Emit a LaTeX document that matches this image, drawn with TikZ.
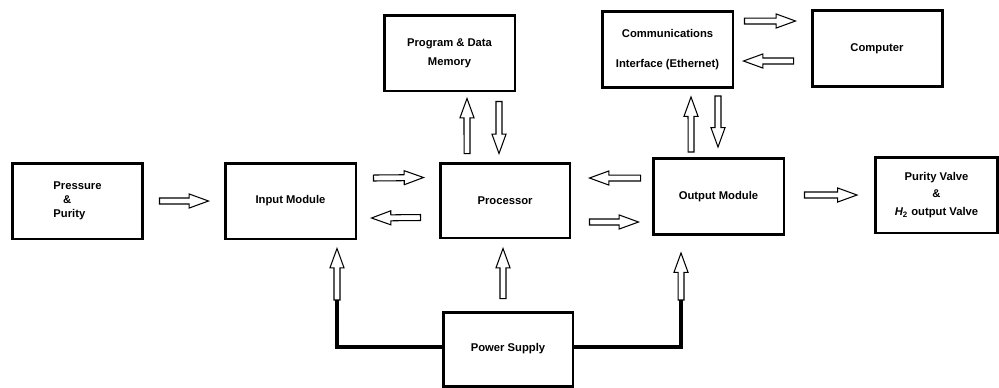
\documentclass[tikz,border=0pt]{standalone}
\usepackage{fontspec}
\setmainfont{Liberation Sans}
\usetikzlibrary{calc}

\newcommand{\shaftw}{1.7pt}
\newcommand{\headw}{4pt}
\newcommand{\headl}{11pt}

\begin{document}
\begin{tikzpicture}[
  x=0.02cm, y=-0.02cm,
  every node/.style={font=\fontsize{6.4}{8}\selectfont\bfseries},
  box/.style={rectangle, draw, line width=1.7pt, minimum width=2.62cm, minimum height=1.52cm, align=center, inner sep=1pt},
  hollow/.style={draw, line width=0.6pt, to path={
    let \p1=(\tikztostart), \p2=(\tikztotarget),
        \n1={veclen(\x2-\x1,\y2-\y1)}, \n2={(\x2-\x1)/\n1}, \n3={(\y2-\y1)/\n1} in
    ({\x1-\shaftw*(\n3)},{\y1+\shaftw*(\n2)})
    -- ({\x2-\headl*(\n2)-\shaftw*(\n3)},{\y2-\headl*(\n3)+\shaftw*(\n2)})
    -- ({\x2-\headl*(\n2)-\headw*(\n3)},{\y2-\headl*(\n3)+\headw*(\n2)})
    -- (\p2)
    -- ({\x2-\headl*(\n2)+\headw*(\n3)},{\y2-\headl*(\n3)-\headw*(\n2)})
    -- ({\x2-\headl*(\n2)+\shaftw*(\n3)},{\y2-\headl*(\n3)-\shaftw*(\n2)})
    -- ({\x1+\shaftw*(\n3)},{\y1-\shaftw*(\n2)}) -- cycle}},
  power/.style={line width=2.8pt}
]
\useasboundingbox (0,0) rectangle (999,387);

\node[box, align=left] (pp) at (77.5,201) {Pressure\\\hspace*{5.5pt}\&\\Purity};
\node[box] (inp) at (290.5,201) {Input Module};
\node[box, minimum width=2.6cm, minimum height=1.5cm] (proc) at (505,200.5) {Processor};
\node[box] (outm) at (718.5,196.5) {Output Module};
\node[box, minimum width=2.44cm] (valve) at (936.5,195) {Purity Valve\\[2pt]\&\\[2pt]{\itshape H}\textsubscript{2} output Valve};
\node[box] (mem) at (449.5,53) {Program \& Data\\[3pt]Memory};
\node[box] (comm) at (667.5,49.5) {Communications\\[9.5pt]Interface (Ethernet)};
\node[box, minimum width=2.6cm] (comp) at (877,48.5) {Computer};
\node[box, minimum width=2.6cm, minimum height=1.48cm] (pwr) at (508,349) {Power Supply};

\coordinate (inbase) at (337,300);
\coordinate (outbase) at (681,300);

\draw[hollow] ([xshift=0.3cm]pp.east) to ([xshift=-0.3cm]inp.west);
\draw[hollow] ([xshift=0.32cm, yshift=0.46cm]inp.east) to ([xshift=-0.3cm, yshift=0.46cm]proc.west);
\draw[hollow] ([xshift=-0.36cm, yshift=-0.34cm]proc.west) to ([xshift=0.28cm, yshift=-0.34cm]inp.east);
\draw[hollow] ([xshift=-0.22cm, yshift=0.37cm]outm.west) to ([xshift=0.36cm, yshift=0.45cm]proc.east);
\draw[hollow] ([xshift=0.36cm, yshift=-0.43cm]proc.east) to ([xshift=-0.26cm, yshift=-0.51cm]outm.west);
\draw[hollow] ([xshift=0.38cm, yshift=0.03cm]outm.east) to ([xshift=-0.34cm]valve.west);
\draw[hollow] ([xshift=-0.76cm, yshift=0.16cm]proc.north) to ([xshift=0.35cm, yshift=-0.12cm]mem.south);
\draw[hollow] ([xshift=0.99cm, yshift=-0.18cm]mem.south) to ([xshift=-0.12cm, yshift=0.16cm]proc.north);
\draw[hollow] ([xshift=-0.55cm, yshift=0.1cm]outm.north) to ([xshift=0.47cm, yshift=-0.16cm]comm.south);
\draw[hollow] ([xshift=1.01cm, yshift=-0.14cm]comm.south) to ([xshift=-0.01cm, yshift=0.2cm]outm.north);
\draw[hollow] ([xshift=0.2cm, yshift=0.57cm]comm.east) to ([xshift=-0.3cm, yshift=0.55cm]comp.west);
\draw[hollow] ([xshift=-0.34cm, yshift=-0.25cm]comp.west) to ([xshift=0.18cm, yshift=-0.23cm]comm.east);
\draw[hollow] ([xshift=-0.1cm, yshift=0.24cm]pwr.north) to ([xshift=-0.04cm, yshift=-0.18cm]proc.south);
\draw[hollow] (inbase) to ([xshift=0.93cm, yshift=-0.16cm]inp.south);
\draw[hollow] (outbase) to ([xshift=-0.75cm, yshift=-0.34cm]outm.south);

\draw[power] ([yshift=0.04cm]pwr.west) -| (inbase);
\draw[power] ([yshift=0.04cm]pwr.east) -| (outbase);
\end{tikzpicture}
\end{document}
